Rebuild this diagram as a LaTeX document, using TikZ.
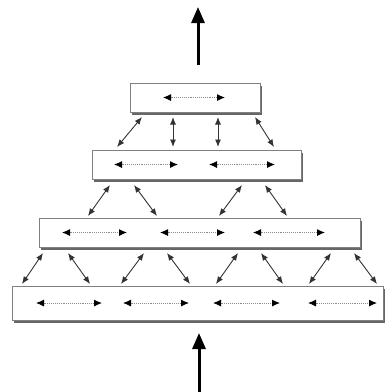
\documentclass[tikz,border=0pt]{standalone}
\usetikzlibrary{arrows.meta,shadows}
\begin{document}
\begin{tikzpicture}[x=1pt,y=-1pt,
  box/.style={draw=black!50,fill=white,line width=1.1pt,inner sep=0pt,anchor=north west,
    drop shadow={shadow xshift=1.8pt,shadow yshift=-2.2pt,fill=black!70,opacity=0.85}},
  link/.style={{Latex[length=7.5pt,width=6pt]}-{Latex[length=7.5pt,width=6pt]},line width=0.9pt,draw=black!80},
  inner/.style={{Latex[length=8pt,width=7pt,color=black]}-{Latex[length=8pt,width=7pt,color=black]},densely dotted,line width=0.9pt,draw=black!45},
  bigarrow/.style={-{Triangle[length=16pt,width=13pt]},line width=3pt,draw=black}]
\useasboundingbox (0,0) rectangle (386,392);
% boxes
\node[box,minimum width=130pt,minimum height=29pt] (T) at (130,83) {};
\node[box,minimum width=209pt,minimum height=29pt] (L2) at (92,150) {};
\node[box,minimum width=321pt,minimum height=29pt] (L3) at (39,218) {};
\node[box,minimum width=371pt,minimum height=34pt] (L4) at (12,286) {};
% inner arrows
\coordinate (t1a) at (163,97.5); \coordinate (t1b) at (225,97.5);
\draw[inner] (t1a) -- (t1b);
\foreach \a/\b [count=\i] in {114/178,209/275}{
  \coordinate (m\i a) at (\a,164.5); \coordinate (m\i b) at (\b,164.5);
  \draw[inner] (m\i a) -- (m\i b);}
\foreach \a/\b [count=\i] in {62/127,160/225,253/325}{
  \coordinate (n\i a) at (\a,232.5); \coordinate (n\i b) at (\b,232.5);
  \draw[inner] (n\i a) -- (n\i b);}
\foreach \a/\b [count=\i] in {36/102,123/189,213/280,308/377}{
  \coordinate (p\i a) at (\a,303); \coordinate (p\i b) at (\b,303);
  \draw[inner] (p\i a) -- (p\i b);}
% links T - L2
\foreach \a/\b [count=\i] in {142/117,173/173,218/218,255/274}{
  \coordinate (u\i) at (\a,117); \coordinate (v\i) at (\b,147);
  \draw[link] (u\i) -- (v\i);}
% links L2 - L3
\foreach \a/\b [count=\i] in {110/88,134/157,242/219,265/287}{
  \coordinate (w\i) at (\a,185); \coordinate (x\i) at (\b,216);
  \draw[link] (w\i) -- (x\i);}
% links L3 - L4
\foreach \a/\b [count=\i] in {43/22,68/90,144/121,167/190,238/216,261/283,331/309,354/377}{
  \coordinate (y\i) at (\a,253); \coordinate (z\i) at (\b,284);
  \draw[link] (y\i) -- (z\i);}
% big arrows
\coordinate (topS) at (198,65); \coordinate (topE) at (198,7);
\draw[bigarrow] (topS) -- (topE);
\coordinate (botS) at (199,392); \coordinate (botE) at (199,333);
\draw[bigarrow] (botS) -- (botE);
\end{tikzpicture}
\end{document}
